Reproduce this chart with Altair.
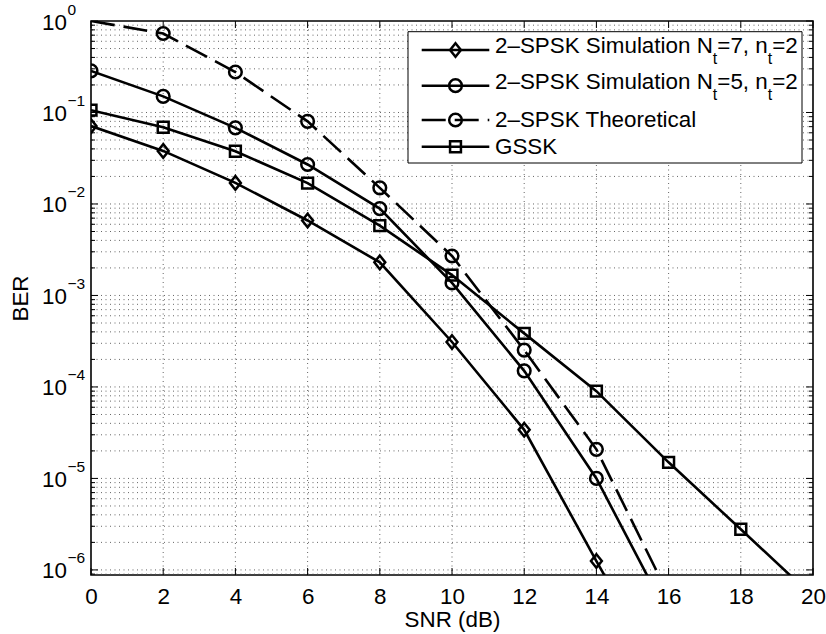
import math
import altair as alt
import pandas as pd

# ---------------------------------------------------------------- data
snr = [0, 2, 4, 6, 8, 10, 12, 14, 16, 18, 20]

ber_nt7 = [0.071, 0.038, 0.017, 0.0066, 0.0023, 3.1e-4, 3.4e-5, 1.25e-6, 5.0e-8]
ber_nt5 = [0.285, 0.15, 0.068, 0.027, 0.0089, 1.37e-3, 1.5e-4, 1.0e-5, 3.1e-7]
ber_theory = [1.0, 0.73, 0.277, 0.080, 0.0150, 2.7e-3, 2.53e-4, 2.08e-5, 5.3e-7]
ber_gssk = [0.106, 0.069, 0.0377, 0.0169, 0.0058, 1.67e-3, 3.85e-4, 9.0e-5,
            1.5e-5, 2.78e-6, 5.1e-7]

x_ticks = [0, 2, 4, 6, 8, 10, 12, 14, 16, 18, 20]
y_exps = [0, -1, -2, -3, -4, -5, -6]

# ---------------------------------------------------------------- style
FONT = "Liberation Sans"
FS = 22.4
W, H = 722, 554
X_MIN, X_MAX = 0, 20
Y_MIN, Y_MAX = 8.8e-7, 1.0
LW = 2.6
MW = 2.5
DASH = [24, 9]
DIAMOND = "M0,-1L0.8,0L0,1L-0.8,0Z"
GRID_DASH = [1, 3.5]
GRID_COLOR = "#555555"

xscale = alt.Scale(domain=[X_MIN, X_MAX], nice=False, zero=False)
yscale = alt.Scale(type="log", domain=[Y_MIN, Y_MAX], nice=False)

xaxis = alt.Axis(values=x_ticks, title="SNR (dB)", grid=False, domain=False,
                 ticks=False, tickSize=0, labelFontSize=FS, labelPadding=10,
                 labelFlush=False, labelColor="black", labelFont=FONT,
                 titleFont=FONT, titleFontSize=FS, titleFontWeight="normal",
                 titleColor="black", titleY=51, titleBaseline="alphabetic")
yaxis = alt.Axis(title="BER", labels=False, grid=False, domain=False,
                 ticks=False, tickSize=0, titleFont=FONT, titleFontSize=FS,
                 titleFontWeight="normal", titleColor="black", titleX=-64,
                 titleY=H / 2, titleAngle=270, titleBaseline="alphabetic",
                 titleAlign="center")

X = alt.X("snr:Q", scale=xscale, axis=xaxis)
Y = alt.Y("ber:Q", scale=yscale, axis=yaxis)

layers = []

# ---------------------------------------------------------------- grid
xgrid = pd.DataFrame({"snr": x_ticks[1:-1]})
layers.append(alt.Chart(xgrid).mark_rule(color=GRID_COLOR, strokeWidth=0.9,
                                         strokeDash=GRID_DASH).encode(x=X))

minor_vals = [k * 10.0 ** e for e in range(-7, 0) for k in range(1, 10)
              if Y_MIN <= k * 10.0 ** e < Y_MAX]
ygrid = pd.DataFrame({"ber": minor_vals})
layers.append(alt.Chart(ygrid).mark_rule(color=GRID_COLOR, strokeWidth=0.9,
                                         strokeDash=GRID_DASH).encode(y=Y))

# ---------------------------------------------------------------- inward ticks
xt = pd.DataFrame({"snr": x_ticks})
for y0, y1 in [(H, H - 7), (0, 7)]:
    layers.append(alt.Chart(xt).mark_rule(color="black", strokeWidth=1).encode(
        x=X, y=alt.value(y0), y2=alt.value(y1)))

major = pd.DataFrame({"ber": [10.0 ** e for e in y_exps]})
minor = pd.DataFrame({"ber": [v for v in minor_vals
                              if abs(round(math.log10(v)) - math.log10(v)) > 1e-9]})
for df, ln in [(major, 7), (minor, 4)]:
    for x0, x1 in [(0, ln), (W, W - ln)]:
        layers.append(alt.Chart(df).mark_rule(color="black", strokeWidth=1).encode(
            y=Y, x=alt.value(x0), x2=alt.value(x1)))

# ---------------------------------------------------------------- y tick labels
ylab = pd.DataFrame({
    "ber": [10.0 ** e for e in y_exps],
    "sup": ["\u2212" + str(-e) if e < 0 else "0" for e in y_exps],
})
layers.append(alt.Chart(ylab).mark_text(text="10", align="left",
                                        baseline="alphabetic", fontSize=FS,
                                        dy=8.5, font=FONT, color="black").encode(
    x=alt.value(-49), y=Y))
layers.append(alt.Chart(ylab).mark_text(align="left", baseline="alphabetic",
                                        fontSize=15.5, dy=-6.5, font=FONT,
                                        color="black").encode(
    x=alt.value(-23.5), y=Y, text="sup:N"))

# ---------------------------------------------------------------- curves
series = [
    (ber_nt7, DIAMOND, 185, None),
    (ber_nt5, "circle", 160, None),
    (ber_theory, "circle", 160, DASH),
    (ber_gssk, "square", 118, None),
]
in_range = f"datum.ber >= {Y_MIN} && datum.ber < {Y_MAX}"
for vals, shape, size, dash in series:
    df = pd.DataFrame({"snr": snr[:len(vals)], "ber": vals})
    line_kw = dict(color="black", strokeWidth=LW, clip=True)
    if dash:
        line_kw["strokeDash"] = dash
    layers.append(alt.Chart(df).mark_line(**line_kw).encode(x=X, y=Y))
    layers.append(alt.Chart(df).transform_filter(in_range).mark_point(
        shape=shape, size=size, filled=False, strokeWidth=MW, color="black",
        opacity=1, clip=True).encode(x=X, y=Y))

# ---------------------------------------------------------------- legend
ADV = {"2": 556, "\u2013": 556, "S": 667, "P": 667, "K": 667, " ": 278,
       "i": 222, "m": 833, "u": 556, "l": 222, "a": 556, "t": 278, "o": 556,
       "n": 556, "N": 722, "=": 584, "7": 556, ",": 278, "5": 556}


def advance(s, size):
    return sum(ADV.get(c, 556) for c in s) * size / 1000.0


SUB_FS = 16
legend_items = [
    (DIAMOND, 185, None, [("2\u2013SPSK Simulation N", 0), ("t", 1),
                          ("=7, n", 0), ("t", 1), ("=2", 0)]),
    ("circle", 160, None, [("2\u2013SPSK Simulation N", 0), ("t", 1),
                           ("=5, n", 0), ("t", 1), ("=2", 0)]),
    ("circle", 160, DASH, [("2\u2013SPSK Theoretical", 0)]),
    ("square", 118, None, [("GSSK", 0)]),
]
row_line_y = [29, 64.7, 99, 125.7]
row_base_y = [32.3, 68, 105.5, 133]
sample_x0, sample_x1, marker_x, text_x = 330.7, 398.3, 364.5, 404

one = pd.DataFrame({"k": [0]})
layers.append(alt.Chart(one).mark_rect(fill="white", stroke="black",
                                       strokeWidth=1).encode(
    x=alt.value(317), x2=alt.value(711), y=alt.value(10.7), y2=alt.value(142)))

for (shape, size, dash, parts), ly, by in zip(legend_items, row_line_y, row_base_y):
    rule_kw = dict(color="black", strokeWidth=LW)
    if dash:
        rule_kw["strokeDash"] = dash
    layers.append(alt.Chart(one).mark_rule(**rule_kw).encode(
        x=alt.value(sample_x0), x2=alt.value(sample_x1), y=alt.value(ly)))
    layers.append(alt.Chart(one).mark_point(shape=shape, size=size, filled=False,
                                            strokeWidth=MW, color="black",
                                            opacity=1).encode(
        x=alt.value(marker_x), y=alt.value(ly)))
    cx = text_x
    for txt, is_sub in parts:
        size_t = SUB_FS if is_sub else FS
        yy = by + (11 if is_sub else 0)
        layers.append(alt.Chart(one).mark_text(text=txt, align="left",
                                               baseline="alphabetic",
                                               fontSize=size_t, font=FONT,
                                               color="black").encode(
            x=alt.value(cx), y=alt.value(yy)))
        cx += advance(txt, size_t)

chart = alt.layer(*layers).properties(
    width=W, height=H,
    autosize=alt.AutoSizeParams(type="none"),
    padding={"left": 91, "top": 21, "right": 13, "bottom": 59},
).configure(font=FONT, background="white").configure_view(
    stroke="black", strokeWidth=1.6)

chart.save("out.html", embed_options={"renderer": "svg", "actions": False})
